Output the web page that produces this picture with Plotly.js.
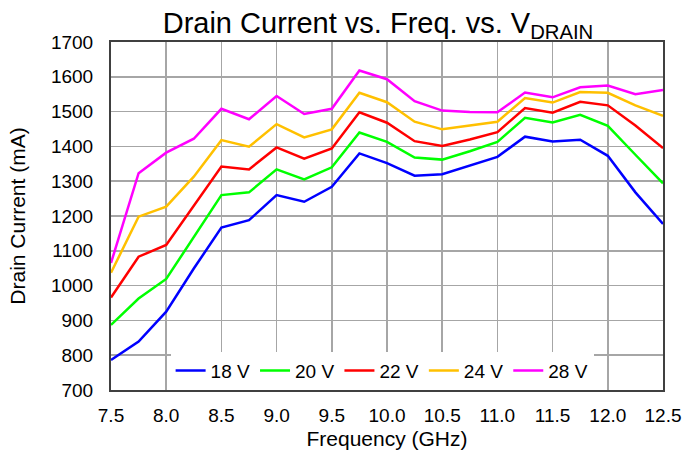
<!DOCTYPE html>
<html><head><meta charset="utf-8">
<script src="https://cdn.plot.ly/plotly-3.0.1.min.js"></script>
<style>html,body{margin:0;padding:0;background:#fff}#chart{width:686px;height:453px}</style>
</head><body><div id="chart"></div>
<script>
const freq = [7.5,7.75,8.0,8.25,8.5,8.75,9.0,9.25,9.5,9.75,10.0,10.25,10.5,10.75,11.0,11.25,11.5,11.75,12.0,12.25,12.5];
const v18 = [786,839,925,1049,1167,1188,1260,1241,1284,1380,1352,1316,1320,1346,1370,1428,1414,1419,1373,1268,1177];
const v20 = [887,963,1019,1138,1260,1268,1334,1305,1340,1440,1413,1368,1362,1386,1413,1482,1469,1491,1459,1376,1294];
const v22 = [966,1083,1117,1230,1342,1334,1397,1365,1394,1498,1468,1415,1401,1420,1441,1510,1497,1528,1518,1460,1395];
const v24 = [1037,1198,1227,1313,1418,1399,1464,1426,1449,1554,1527,1471,1449,1459,1471,1539,1526,1556,1554,1518,1488];
const v28 = [1065,1323,1382,1422,1508,1478,1545,1493,1508,1618,1593,1530,1503,1499,1498,1555,1541,1570,1575,1550,1562];
const names = ['18 V','20 V','22 V','24 V','28 V'];
const colors = ['#0000ff','#00ff00','#ff0000','#ffc000','#ff00ff'];
const series = [v18,v20,v22,v24,v28];
const xTicks = [7.5,8.0,8.5,9.0,9.5,10.0,10.5,11.0,11.5,12.0,12.5];
const xTickText = ['7.5','8.0','8.5','9.0','9.5','10.0','10.5','11.0','11.5','12.0','12.5'];

const traces = series.map((s,i)=>({x:freq,y:s,name:names[i],type:'scatter',mode:'lines',line:{color:colors[i],width:2.5}}));
const font = {family:'Liberation Sans, Arial, sans-serif',color:'#000'};
const layout = {
  width:686,height:453,
  margin:{l:111,r:23,t:42,b:63},
  paper_bgcolor:'#fff',plot_bgcolor:'#fff',
  font:Object.assign({size:19},font),
  title:{text:'Drain Current vs. Freq. vs. V<sub>DRAIN</sub>',font:Object.assign({size:29},font),x:0.551,xanchor:'center',yref:'container',y:0.950,yanchor:'middle'},
  xaxis:{range:[7.5,12.5],tickvals:xTicks,ticktext:xTickText,showgrid:true,gridcolor:'#a6a6a6',gridwidth:1.5,
    showline:true,linecolor:'#404040',linewidth:2,mirror:true,ticks:'',zeroline:false,ticklabelstandoff:7,
    title:{text:'Frequency (GHz)',font:Object.assign({size:21},font),standoff:7},tickfont:Object.assign({size:19},font)},
  yaxis:{range:[700,1700],dtick:100,showgrid:true,gridcolor:'#a6a6a6',gridwidth:1.5,
    showline:true,linecolor:'#404040',linewidth:2,mirror:true,ticks:'',zeroline:false,ticklabelstandoff:12,
    title:{text:'Drain Current (mA)',font:Object.assign({size:21},font),standoff:20},tickfont:Object.assign({size:19},font)},
  showlegend:true,
  legend:{orientation:'h',x:0.108,y:0.001,xanchor:'left',yanchor:'bottom',bgcolor:'#fff',font:Object.assign({size:19},font),itemwidth:30,tracegroupgap:0}
};
Plotly.newPlot('chart',traces,layout,{displayModeBar:false,staticPlot:true});
</script></body></html>
